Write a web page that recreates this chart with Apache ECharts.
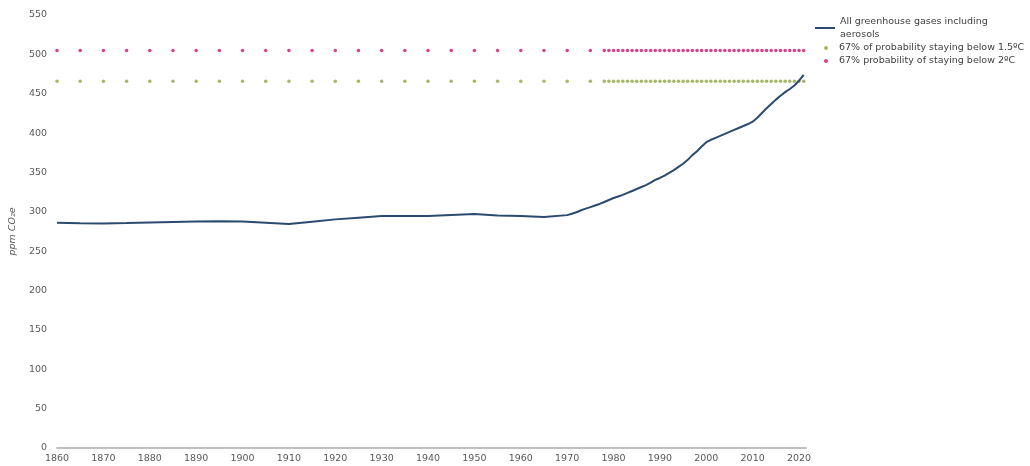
<!DOCTYPE html>
<html>
<head>
<meta charset="utf-8">
<script src="https://cdn.jsdelivr.net/npm/echarts@6/dist/echarts.min.js"></script>
<style>
html,body{margin:0;padding:0;background:#fff;}
#chart{width:1030px;height:466px;}
</style>
</head>
<body>
<div id="chart"></div>
<script>
const lineYears = [1860,1865,1870,1875,1880,1885,1890,1895,1900,1905,1910,1915,1920,1925,1930,1935,1940,1945,1950,1955,1960,1965,1970,
  1971,1972,1973,1974,1975,1976,1977,1978,1979,1980,
  1981,1982,1983,1984,1985,1986,1987,1988,1989,1990,
  1991,1992,1993,1994,1995,1996,1997,1998,1999,2000,
  2001,2002,2003,2004,2005,2006,2007,2008,2009,2010,
  2011,2012,2013,2014,2015,2016,2017,2018,2019,2020,2021];
const lineValues = [286,285.5,285.3,285.8,286.5,287.2,287.8,288,287.8,286.2,284.4,287.5,290.4,292.5,294.6,294.7,294.8,296,297.2,295.2,294.8,293.5,295.8,
  297.5,299.5,302,304,306,308,310,312.5,315,317.5,
  319.5,321.5,324,326.5,329,331.5,334,337,340.5,343,
  346,349.5,353,357,361,366,372,377,383,388.5,
  391.5,394,396.5,399,401.5,404,406.5,409,411.5,414.5,
  419.5,425.5,431.5,437,442.5,447.5,452,456,460.5,466.5,474];
const dotYears = [1860,1865,1870,1875,1880,1885,1890,1895,1900,1905,1910,1915,1920,1925,1930,1935,1940,1945,1950,1955,1960,1965,1970,1975,
  1978,1979,1980,1981,1982,1983,1984,1985,1986,1987,1988,1989,1990,
  1991,1992,1993,1994,1995,1996,1997,1998,1999,2000,
  2001,2002,2003,2004,2005,2006,2007,2008,2009,2010,
  2011,2012,2013,2014,2015,2016,2017,2018,2019,2020,2021];
const limit15 = 466;
const limit2 = 505;
const xTickLabels = [1860,1870,1880,1890,1900,1910,1920,1930,1940,1950,1960,1970,1980,1990,2000,2010,2020];
const yTickLabels = [0,50,100,150,200,250,300,350,400,450,500,550];

const names = ['All greenhouse gases including\naerosols','67% of probability staying below 1.5ºC','67% probability of staying below 2ºC'];
const colors = ['#2a4a6f','#8ea53f','#d0106f'];
const FONT = 'DejaVu Sans';

const chart = echarts.init(document.getElementById('chart'));
chart.setOption({
  animation:false,
  textStyle:{fontFamily:FONT},
  grid:{left:56,right:224,top:15,bottom:18,containLabel:false},
  legend:[
    {data:[{name:names[0],icon:'path://M0,0 L20,0 L20,2 L0,2 Z'}],orient:'vertical',left:815,top:15,padding:0,
     itemWidth:20,itemHeight:10,itemGap:4,
     textStyle:{fontFamily:FONT,fontSize:9.5,color:'#404040',lineHeight:13}},
    {data:[names[1],names[2]],orient:'vertical',left:824,top:43,padding:0,itemWidth:4,itemHeight:4,itemGap:3,icon:'circle',
     textStyle:{fontFamily:FONT,fontSize:9.5,color:'#404040',padding:[0,0,0,6]}}
  ],
  xAxis:{type:'value',min:1860,max:2021.5,interval:10,
    axisLine:{show:true,lineStyle:{color:'#c0c0c0',width:2}},
    axisTick:{show:false},splitLine:{show:false},
    axisLabel:{color:'#595959',fontSize:9.5,margin:6,showMaxLabel:true,
      formatter:v=>xTickLabels.indexOf(v)>=0?String(v):''}},
  yAxis:{type:'value',min:0,max:550,interval:50,
    name:'ppm CO₂e',nameLocation:'middle',nameGap:35,
    nameTextStyle:{fontStyle:'italic',fontSize:9.5,color:'#595959'},
    axisLine:{show:false},axisTick:{show:false},splitLine:{show:false},
    axisLabel:{color:'#595959',fontSize:9.5,margin:10,
      formatter:v=>yTickLabels.indexOf(v)>=0?String(v):''}},
  series:[
    {name:names[0],type:'line',symbol:'none',color:colors[0],
     lineStyle:{width:2,color:colors[0]},z:3,
     data:lineYears.map((y,i)=>[y,lineValues[i]])},
    {name:names[1],type:'scatter',symbol:'circle',symbolSize:3.5,color:colors[1],z:2,
     data:dotYears.map(y=>[y,limit15])},
    {name:names[2],type:'scatter',symbol:'circle',symbolSize:3.5,color:colors[2],z:2,
     data:dotYears.map(y=>[y,limit2])}
  ]
});
</script>
</body>
</html>
